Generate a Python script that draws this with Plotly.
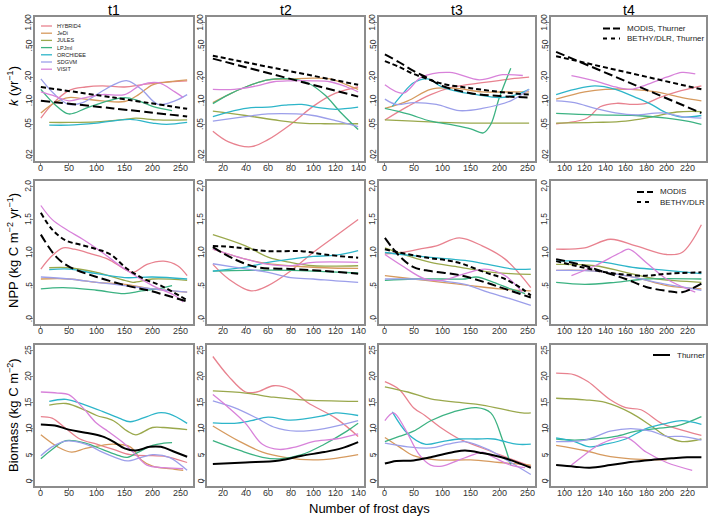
import math
import plotly.graph_objects as go

W, H = 709, 518
FONT = "Liberation Sans, Arial, Helvetica, sans-serif"

MODELS = ["HYBRID4", "JeDi", "JULES", "LPJml", "ORCHIDEE", "SDGVM", "VISIT"]
COLORS = {
    "HYBRID4": "#E8828F",
    "JeDi": "#D69A5E",
    "JULES": "#9AA84C",
    "LPJml": "#3CB282",
    "ORCHIDEE": "#2DB5C9",
    "SDGVM": "#9C9FEA",
    "VISIT": "#D882DA",
}
COL_TITLES = ["t1", "t2", "t3", "t4"]

# ---------------- Row 1: turnover rate k (yr^-1), log scale ----------------
K_T1 = {
    "HYBRID4": ([0, 20, 50, 80, 110, 150, 180, 210, 262], [0.06, 0.09, 0.135, 0.15, 0.155, 0.15, 0.16, 0.17, 0.18]),
    "JeDi": ([0, 25, 50, 80, 110, 150, 175, 200, 230, 262], [0.07, 0.095, 0.11, 0.105, 0.10, 0.098, 0.12, 0.16, 0.175, 0.185]),
    "JULES": ([15, 50, 100, 150, 170, 210, 262], [0.053, 0.053, 0.054, 0.058, 0.06, 0.057, 0.057]),
    "LPJml": ([0, 25, 50, 80, 110, 150, 175, 200, 235], [0.14, 0.09, 0.068, 0.08, 0.095, 0.11, 0.10, 0.085, 0.075]),
    "ORCHIDEE": ([15, 50, 100, 160, 200, 225, 262], [0.049, 0.049, 0.052, 0.058, 0.052, 0.05, 0.053]),
    "SDGVM": ([0, 25, 50, 75, 100, 130, 155, 180, 210, 240, 262], [0.19, 0.12, 0.09, 0.095, 0.12, 0.16, 0.18, 0.14, 0.09, 0.10, 0.12]),
    "VISIT": ([0, 25, 50, 80, 110, 150, 180, 210, 240, 255], [0.13, 0.115, 0.10, 0.11, 0.12, 0.12, 0.16, 0.17, 0.13, 0.11]),
    "MODIS": ([0, 130, 262], [0.10, 0.080, 0.063]),
    "BETHY": ([0, 130, 262], [0.15, 0.11, 0.079]),
}
K_T2 = {
    "HYBRID4": ([11, 25, 45, 60, 80, 100, 120, 140], [0.041, 0.030, 0.026, 0.032, 0.05, 0.085, 0.125, 0.15]),
    "JeDi": ([11, 25, 40, 60, 80, 100, 115, 130, 140], [0.095, 0.12, 0.15, 0.185, 0.19, 0.195, 0.19, 0.16, 0.14]),
    "JULES": ([11, 40, 70, 90, 110, 140], [0.074, 0.065, 0.056, 0.052, 0.051, 0.051]),
    "LPJml": ([11, 25, 40, 60, 80, 95, 110, 125, 140], [0.092, 0.12, 0.15, 0.185, 0.19, 0.17, 0.12, 0.07, 0.043]),
    "ORCHIDEE": ([11, 30, 45, 60, 75, 90, 105, 120, 140], [0.063, 0.075, 0.082, 0.083, 0.088, 0.09, 0.082, 0.078, 0.083]),
    "SDGVM": ([11, 40, 60, 85, 100, 120, 140], [0.055, 0.063, 0.068, 0.068, 0.065, 0.056, 0.047]),
    "VISIT": ([11, 30, 50, 65, 80, 100, 115, 130, 140], [0.14, 0.14, 0.155, 0.175, 0.18, 0.18, 0.175, 0.15, 0.13]),
    "MODIS": ([11, 140], [0.345, 0.113]),
    "BETHY": ([11, 140], [0.375, 0.16]),
}
K_T3 = {
    "HYBRID4": ([0, 40, 80, 120, 170, 220, 252], [0.057, 0.085, 0.12, 0.15, 0.17, 0.19, 0.20]),
    "JeDi": ([0, 40, 80, 120, 170, 220, 252], [0.08, 0.10, 0.14, 0.145, 0.13, 0.13, 0.13]),
    "JULES": ([0, 50, 100, 150, 252], [0.057, 0.055, 0.053, 0.052, 0.052]),
    "LPJml": ([0, 40, 80, 120, 150, 172, 185, 200, 220], [0.08, 0.068, 0.055, 0.049, 0.044, 0.039, 0.05, 0.11, 0.26]),
    "ORCHIDEE": ([13, 30, 50, 75, 100, 130, 160, 200, 230, 252], [0.085, 0.12, 0.17, 0.19, 0.15, 0.13, 0.12, 0.11, 0.12, 0.14]),
    "SDGVM": ([0, 20, 50, 90, 130, 170, 220, 252], [0.105, 0.09, 0.095, 0.09, 0.075, 0.08, 0.10, 0.14]),
    "VISIT": ([0, 32, 64, 113, 165, 206, 241], [0.16, 0.125, 0.20, 0.23, 0.185, 0.215, 0.21]),
    "MODIS": ([0, 25, 50, 75, 100, 150, 200, 252], [0.39, 0.31, 0.24, 0.195, 0.155, 0.125, 0.115, 0.11]),
    "BETHY": ([0, 25, 50, 75, 100, 150, 200, 252], [0.32, 0.27, 0.22, 0.19, 0.165, 0.145, 0.13, 0.12]),
}
K_T4 = {
    "HYBRID4": ([92, 122, 135, 151, 167, 180, 193, 210, 234], [0.051, 0.06, 0.084, 0.093, 0.09, 0.093, 0.11, 0.13, 0.155]),
    "JeDi": ([92, 120, 140, 165, 190, 215, 234], [0.105, 0.13, 0.14, 0.14, 0.13, 0.11, 0.10]),
    "JULES": ([92, 130, 160, 185, 210, 234], [0.052, 0.053, 0.055, 0.062, 0.072, 0.073]),
    "LPJml": ([92, 130, 170, 200, 220, 234], [0.069, 0.066, 0.065, 0.06, 0.055, 0.05]),
    "ORCHIDEE": ([92, 110, 130, 150, 170, 185, 200, 215, 234], [0.12, 0.14, 0.155, 0.14, 0.11, 0.09, 0.07, 0.062, 0.065]),
    "SDGVM": ([92, 110, 130, 150, 170, 195, 215, 234], [0.10, 0.095, 0.08, 0.07, 0.066, 0.07, 0.063, 0.06]),
    "VISIT": ([107, 130, 150, 165, 180, 200, 215, 228], [0.21, 0.18, 0.15, 0.14, 0.16, 0.20, 0.23, 0.22]),
    "MODIS": ([92, 234], [0.42, 0.07]),
    "BETHY": ([92, 234], [0.37, 0.14]),
}

# ---------------- Row 2: NPP (kg C m^-2 yr^-1) ----------------
N_T1 = {
    "HYBRID4": ([0, 20, 40, 60, 90, 120, 150, 165, 190, 220, 245, 262], [0.75, 0.95, 1.07, 1.05, 0.98, 0.9, 0.75, 0.7, 0.82, 0.87, 0.8, 0.65]),
    "JeDi": ([0, 50, 100, 150, 200, 262], [0.6, 0.6, 0.55, 0.52, 0.45, 0.4]),
    "JULES": ([15, 50, 100, 150, 165, 200, 262], [0.77, 0.77, 0.7, 0.58, 0.55, 0.6, 0.58]),
    "LPJml": ([0, 40, 100, 150, 180, 210, 235], [0.45, 0.47, 0.43, 0.38, 0.42, 0.45, 0.5]),
    "ORCHIDEE": ([15, 50, 100, 150, 200, 262], [0.74, 0.75, 0.68, 0.62, 0.63, 0.6]),
    "SDGVM": ([0, 50, 100, 150, 200, 262], [0.63, 0.6, 0.55, 0.5, 0.45, 0.4]),
    "VISIT": ([0, 20, 45, 75, 110, 150, 200, 240, 255], [1.71, 1.5, 1.35, 1.2, 1.0, 0.75, 0.5, 0.35, 0.25]),
    "MODIS": ([0, 28, 52, 100, 154, 196, 262], [1.27, 0.93, 0.78, 0.63, 0.5, 0.42, 0.26]),
    "BETHY": ([0, 20, 45, 70, 100, 125, 155, 185, 215, 262], [1.6, 1.35, 1.18, 1.12, 1.05, 0.97, 0.75, 0.6, 0.5, 0.28]),
}
N_T2 = {
    "HYBRID4": ([11, 25, 45, 60, 80, 100, 120, 140], [0.82, 0.6, 0.42, 0.5, 0.72, 1.0, 1.25, 1.5]),
    "JeDi": ([11, 40, 60, 80, 110, 140], [1.05, 0.9, 0.83, 0.8, 0.77, 0.76]),
    "JULES": ([11, 40, 60, 80, 100, 140], [1.27, 1.1, 0.93, 0.85, 0.8, 0.8]),
    "LPJml": ([11, 40, 80, 110, 140], [0.72, 0.73, 0.73, 0.71, 0.69]),
    "ORCHIDEE": ([11, 40, 60, 80, 100, 120, 140], [0.72, 0.78, 0.85, 0.9, 0.94, 0.96, 1.03]),
    "SDGVM": ([11, 30, 60, 80, 100, 120, 140], [0.83, 0.78, 0.7, 0.62, 0.6, 0.57, 0.55]),
    "VISIT": ([11, 40, 60, 80, 100, 140], [1.05, 0.9, 0.82, 0.8, 0.85, 0.85]),
    "MODIS": ([11, 30, 50, 80, 110, 140], [1.08, 0.9, 0.78, 0.75, 0.72, 0.68]),
    "BETHY": ([11, 30, 60, 90, 110, 140], [1.1, 1.08, 1.02, 1.02, 0.97, 0.92]),
}
N_T3 = {
    "HYBRID4": ([0, 30, 60, 90, 130, 170, 210, 255], [0.98, 1.0, 1.05, 1.1, 1.22, 1.1, 0.9, 0.47]),
    "JeDi": ([0, 50, 100, 150, 200, 255], [0.65, 0.6, 0.55, 0.5, 0.45, 0.42]),
    "JULES": ([0, 40, 80, 130, 170, 220, 255], [1.07, 0.95, 0.85, 0.78, 0.72, 0.68, 0.67]),
    "LPJml": ([0, 50, 100, 140, 160, 190, 220, 245], [0.58, 0.6, 0.6, 0.6, 0.63, 0.55, 0.45, 0.38]),
    "ORCHIDEE": ([0, 30, 75, 140, 180, 225, 255], [1.0, 0.97, 0.93, 0.88, 0.82, 0.75, 0.75]),
    "SDGVM": ([0, 50, 100, 140, 180, 220, 255], [0.6, 0.6, 0.57, 0.52, 0.4, 0.3, 0.2]),
    "VISIT": ([0, 30, 70, 100, 140, 175, 210, 240], [0.97, 0.8, 0.6, 0.58, 0.68, 0.75, 0.65, 0.4]),
    "MODIS": ([0, 25, 50, 80, 130, 175, 210, 255], [1.22, 0.95, 0.78, 0.72, 0.66, 0.55, 0.45, 0.32]),
    "BETHY": ([0, 25, 75, 110, 135, 175, 210, 240, 255], [1.05, 1.0, 0.92, 0.88, 0.83, 0.7, 0.6, 0.45, 0.35]),
}
N_T4 = {
    "HYBRID4": ([92, 120, 145, 170, 200, 215, 234], [1.05, 1.07, 1.2, 1.1, 0.97, 1.0, 1.42]),
    "JeDi": ([92, 130, 170, 200, 234], [0.73, 0.72, 0.62, 0.5, 0.45]),
    "JULES": ([92, 130, 160, 190, 234], [0.82, 0.8, 0.7, 0.6, 0.55]),
    "LPJml": ([92, 120, 150, 180, 234], [0.55, 0.52, 0.55, 0.6, 0.6]),
    "ORCHIDEE": ([92, 130, 170, 200, 234], [0.87, 0.87, 0.77, 0.73, 0.68]),
    "SDGVM": ([92, 130, 160, 190, 215, 234], [0.73, 0.72, 0.65, 0.55, 0.48, 0.43]),
    "VISIT": ([107, 130, 155, 163, 180, 200, 228], [0.65, 0.8, 1.0, 1.05, 0.85, 0.6, 0.4]),
    "MODIS": ([92, 120, 140, 160, 180, 200, 215, 234], [0.9, 0.8, 0.7, 0.6, 0.48, 0.42, 0.4, 0.53]),
    "BETHY": ([92, 125, 150, 180, 200, 234], [0.87, 0.75, 0.68, 0.65, 0.68, 0.7]),
}

# ---------------- Row 3: Biomass (kg C m^-2) ----------------
B_T1 = {
    "HYBRID4": ([0, 20, 45, 70, 100, 130, 160, 200, 220, 262], [12.3, 12.0, 10, 8, 7, 6, 5, 4.8, 4.7, 3.5]),
    "JeDi": ([0, 30, 55, 80, 110, 130, 160, 180, 200, 240, 255], [8.8, 6.5, 5.5, 6.2, 6.8, 7, 6.5, 4, 2.8, 2.2, 2.0]),
    "JULES": ([15, 45, 80, 100, 130, 155, 170, 200, 220, 262], [14.5, 14.8, 13.5, 12.5, 11.5, 9.5, 8.8, 10.2, 10.2, 9.8]),
    "LPJml": ([0, 20, 45, 80, 110, 140, 155, 175, 200, 220, 235], [4.2, 6, 7.7, 7.2, 6, 4.8, 4.5, 5.5, 6.8, 7.2, 7.3]),
    "ORCHIDEE": ([15, 45, 80, 110, 140, 160, 190, 210, 230, 262], [15.2, 15.6, 14.5, 13.3, 12, 11.3, 12.3, 13, 12.8, 11]),
    "SDGVM": ([0, 20, 45, 80, 110, 140, 155, 180, 200, 230, 262], [4.8, 6.5, 7.6, 7, 5.5, 4.2, 3.8, 4.5, 5, 4.5, 2]),
    "VISIT": ([0, 30, 50, 75, 100, 120, 145, 170, 190, 220, 255], [17, 16.8, 16.5, 14, 11, 9.5, 7.5, 5, 3, 2.5, 2.3]),
    "Thurner": ([0, 25, 50, 80, 110, 130, 150, 170, 195, 215, 240, 262], [10.8, 10.6, 9.8, 9.2, 8.5, 7.5, 6.2, 5.8, 6.5, 6.5, 5.5, 4.6]),
}
B_T2 = {
    "HYBRID4": ([11, 25, 40, 50, 65, 80, 95, 120, 140], [23.8, 20, 17, 17, 18.2, 17.5, 15, 12, 8.5]),
    "JeDi": ([11, 35, 55, 75, 100, 120, 140], [10.5, 7.5, 5.5, 4.5, 4.0, 4.3, 5]),
    "JULES": ([11, 40, 65, 90, 140], [17.2, 16.8, 16, 15.5, 15.2]),
    "LPJml": ([11, 35, 55, 70, 90, 110, 130, 140], [7.7, 5.8, 4.5, 4.2, 5, 7, 9.5, 11]),
    "ORCHIDEE": ([11, 30, 45, 60, 80, 110, 120, 140], [11.1, 11, 11.5, 12.2, 11.6, 12.5, 13, 12.5]),
    "SDGVM": ([11, 30, 50, 65, 85, 110, 140], [15.3, 14, 12, 10.3, 9.5, 10, 11.5]),
    "VISIT": ([11, 25, 40, 55, 70, 85, 100, 120, 140], [16.5, 14, 11, 7, 6, 6.5, 7.5, 8, 9]),
    "Thurner": ([11, 40, 70, 90, 110, 125, 140], [3.2, 3.5, 3.9, 4.8, 5.5, 6.2, 7.4]),
}
B_T3 = {
    "HYBRID4": ([0, 25, 50, 70, 100, 130, 165, 200, 255], [19, 17.5, 14, 12.5, 10, 8, 6.5, 5, 2.8]),
    "JeDi": ([0, 25, 50, 90, 150, 200, 255], [8.3, 6.5, 4.8, 4, 4, 3.5, 3]),
    "JULES": ([0, 40, 80, 130, 170, 240, 255], [18, 17, 15.7, 15, 14.5, 13, 13]),
    "LPJml": ([0, 25, 50, 80, 120, 160, 185, 205, 220], [7.5, 8.5, 9.5, 11.5, 13.2, 14, 13, 8, 3]),
    "ORCHIDEE": ([13, 40, 70, 100, 130, 160, 190, 230, 255], [13.2, 9, 7, 7.5, 8, 8, 8, 7, 7]),
    "SDGVM": ([0, 40, 80, 110, 140, 180, 220, 255], [7.2, 6.5, 6.3, 7, 7.5, 6, 3.5, 1.2]),
    "VISIT": ([0, 15, 35, 60, 80, 100, 130, 155, 170, 190, 220, 245], [11.5, 13, 10, 5, 3, 2.8, 4, 5, 5.5, 4.5, 3, 2.5]),
    "Thurner": ([0, 20, 50, 80, 120, 140, 170, 210, 255], [3.3, 3.8, 3.9, 4.5, 5.5, 5.8, 5.3, 4.3, 2.5]),
}
B_T4 = {
    "HYBRID4": ([92, 110, 123, 145, 160, 175, 195, 210, 234], [20.6, 20.3, 19, 15.5, 14, 13.6, 11, 10, 8.7]),
    "JeDi": ([92, 120, 140, 165, 190, 200], [6.8, 5.8, 4.8, 4.2, 4.0, 4.0]),
    "JULES": ([92, 120, 140, 165, 185, 200, 215, 234], [15.8, 15.5, 15, 13, 10.5, 8.5, 7.5, 8]),
    "LPJml": ([92, 110, 130, 150, 170, 190, 210, 234], [8, 7.8, 8, 8.5, 9.5, 10, 10.5, 12.3]),
    "ORCHIDEE": ([92, 110, 125, 140, 160, 180, 200, 215, 234], [8.2, 7.5, 6.5, 7, 8, 10, 11, 11.5, 10.8]),
    "SDGVM": ([92, 120, 145, 165, 185, 200, 215, 234], [7.5, 7.8, 9.5, 10, 9.5, 8.5, 8.5, 7.8]),
    "VISIT": ([107, 120, 135, 160, 180, 200, 225], [3, 5, 7, 8.3, 5.5, 3.5, 2]),
    "Thurner": ([92, 110, 125, 145, 165, 185, 205, 220, 234], [3.0, 2.7, 2.5, 3.0, 3.6, 4.0, 4.3, 4.5, 4.5]),
}

PANELS = [[K_T1, K_T2, K_T3, K_T4], [N_T1, N_T2, N_T3, N_T4], [B_T1, B_T2, B_T3, B_T4]]

X_TICKS = [[0, 50, 100, 150, 200, 250], [20, 40, 60, 80, 100, 120, 140],
           [0, 50, 100, 150, 200, 250], [100, 120, 140, 160, 180, 200, 220]]
X_RANGES = [[-10.5, 272.5], [5.8, 145.2], [-10.3, 262.3], [87, 238.5]]
Y_TICKVALS = [[0.02, 0.05, 0.1, 0.2, 0.5, 1.0], [0, 0.5, 1.0, 1.5, 2.0], [0, 5, 10, 15, 20, 25]]
Y_TICKTEXT = [[".02", ".05", ".10", ".20", ".50", "1.00"], [".0", ".5", "1.0", "1.5", "2.0"],
              ["0", "5", "10", "15", "20", "25"]]
Y_RANGES = [[-1.767, 0.068], [-0.08, 2.08], [-1.0, 26.0]]
Y_TYPES = ["log", "linear", "linear"]
Y_TITLES = ["<i>k</i> (yr<sup>−1</sup>)", "NPP (kg C m<sup>−2</sup> yr<sup>−1</sup>)", "Biomass (kg C m<sup>−2</sup>)"]

# pixel boxes of panels
COL_PX = [(35, 193), (207, 364), (379, 535), (551, 706)]
ROW_PX = [(17, 161), (181, 324), (345, 486)]


def px(x):
    return x / W


def py(y):
    return 1 - y / H


fig = go.Figure()
layout = {}
annotations = []
shapes = []
AXCOL = "#8c8c8c"
TICKCOL = "#333333"
DASH_MODIS = "9px,4px"
DASH_BETHY = "5px,3px"

black_styles = {
    "MODIS": dict(color="black", width=2, dash=DASH_MODIS),
    "BETHY": dict(color="black", width=2, dash=DASH_BETHY),
    "Thurner": dict(color="black", width=2),
}

for r in range(3):
    for c in range(4):
        n = r * 4 + c + 1
        xa = "x" if n == 1 else f"x{n}"
        ya = "y" if n == 1 else f"y{n}"
        data = PANELS[r][c]
        for m in MODELS:
            if m in data:
                xs, ys = data[m]
                fig.add_trace(go.Scatter(x=xs, y=ys, mode="lines", xaxis=xa, yaxis=ya,
                                         line=dict(color=COLORS[m], width=1.3, shape="spline", smoothing=1.0),
                                         name=m, showlegend=False, hoverinfo="skip"))
        for b in ["MODIS", "BETHY", "Thurner"]:
            if b in data:
                xs, ys = data[b]
                st = dict(black_styles[b])
                st.update(shape="spline", smoothing=1.0)
                fig.add_trace(go.Scatter(x=xs, y=ys, mode="lines", xaxis=xa, yaxis=ya,
                                         line=st, name=b, showlegend=False, hoverinfo="skip"))
        x0, x1 = COL_PX[c]
        y0, y1 = ROW_PX[r]
        xkey = "xaxis" if n == 1 else f"xaxis{n}"
        ykey = "yaxis" if n == 1 else f"yaxis{n}"
        layout[xkey] = dict(domain=[px(x0), px(x1)], anchor=ya, range=X_RANGES[c],
                            tickvals=X_TICKS[c], ticks="outside", ticklen=3, tickwidth=1,
                            tickcolor=AXCOL, showline=True, mirror=True, linecolor=AXCOL,
                            linewidth=1.5, showgrid=False, zeroline=False, showticklabels=False)
        layout[ykey] = dict(domain=[py(y1), py(y0)], anchor=xa, type=Y_TYPES[r], range=Y_RANGES[r],
                            tickvals=Y_TICKVALS[r], ticks="outside", ticklen=3, tickwidth=1,
                            tickcolor=AXCOL, showline=True, mirror=True, linecolor=AXCOL,
                            linewidth=1.5, showgrid=False, zeroline=False, showticklabels=False)
        # tick labels, placed close to the axes as in the original
        for tv in X_TICKS[c]:
            annotations.append(dict(x=tv, xref=xa, y=py(y1 + 7), yref="paper", text=str(tv),
                                    showarrow=False, xanchor="center", yanchor="middle",
                                    font=dict(family=FONT, size=9, color=TICKCOL)))
        for tv, tt in zip(Y_TICKVALS[r], Y_TICKTEXT[r]):
            yv = math.log10(tv) if Y_TYPES[r] == "log" else tv
            annotations.append(dict(x=px(x0 - 6.5), xref="paper", y=yv, yref=ya, text=tt,
                                    showarrow=False, textangle=-90, xanchor="center", yanchor="middle",
                                    font=dict(family=FONT, size=8.5, color=TICKCOL)))

# column titles
for c, t in enumerate(COL_TITLES):
    x0, x1 = COL_PX[c]
    annotations.append(dict(x=px((x0 + x1) / 2), y=1.0, xref="paper", yref="paper", text=t,
                            showarrow=False, xanchor="center", yanchor="top",
                            font=dict(family=FONT, size=14, color="black")))

# y-axis titles
Y_TITLE_CY = [86, 251, 415]
for r, t in enumerate(Y_TITLES):
    annotations.append(dict(x=px(13), y=py(Y_TITLE_CY[r]), xref="paper", yref="paper", text=t,
                            showarrow=False, textangle=-90, xanchor="center", yanchor="middle",
                            font=dict(family=FONT, size=13, color="black")))

# x-axis title
annotations.append(dict(x=px(369), y=py(508), xref="paper", yref="paper", text="Number of frost days",
                        showarrow=False, xanchor="center", yanchor="middle",
                        font=dict(family=FONT, size=13, color="black")))


def legend_item(xl0, xl1, xt, yc, label, line, size):
    shapes.append(dict(type="line", xref="paper", yref="paper", x0=px(xl0), x1=px(xl1),
                       y0=py(yc), y1=py(yc), line=line))
    annotations.append(dict(x=px(xt), y=py(yc), xref="paper", yref="paper", text=label,
                            showarrow=False, xanchor="left", yanchor="middle",
                            font=dict(family=FONT, size=size, color="#222222")))


# model legend (t1, row 1)
LEG_Y = [26, 33.2, 40.4, 47.6, 54.8, 62, 69.2]
for m, yc in zip(MODELS, LEG_Y):
    legend_item(41, 52, 55, yc, m, dict(color=COLORS[m], width=1.3), 5.5)

# observation legends
legend_item(603, 620, 625, 28.5, "MODIS, Thurner", dict(color="black", width=2, dash="7px,3px"), 8)
legend_item(603, 620, 625, 38.5, "BETHY/DLR, Thurner", dict(color="black", width=2, dash="4px,4px"), 8)
legend_item(637, 653, 658, 192, "MODIS", dict(color="black", width=2, dash="7px,3px"), 8)
legend_item(637, 653, 658, 202, "BETHY/DLR", dict(color="black", width=2, dash="4px,4px"), 8)
legend_item(653, 670, 675, 355, "Thurner", dict(color="black", width=2), 8)

fig.update_layout(width=W, height=H, margin=dict(l=0, r=0, t=0, b=0),
                  paper_bgcolor="white", plot_bgcolor="white",
                  annotations=annotations, shapes=shapes, showlegend=False,
                  font=dict(family=FONT), **layout)

fig.write_html("out.html", config={"displayModeBar": False},
               post_script="document.body.style.margin='0';document.body.style.overflow='hidden';")
